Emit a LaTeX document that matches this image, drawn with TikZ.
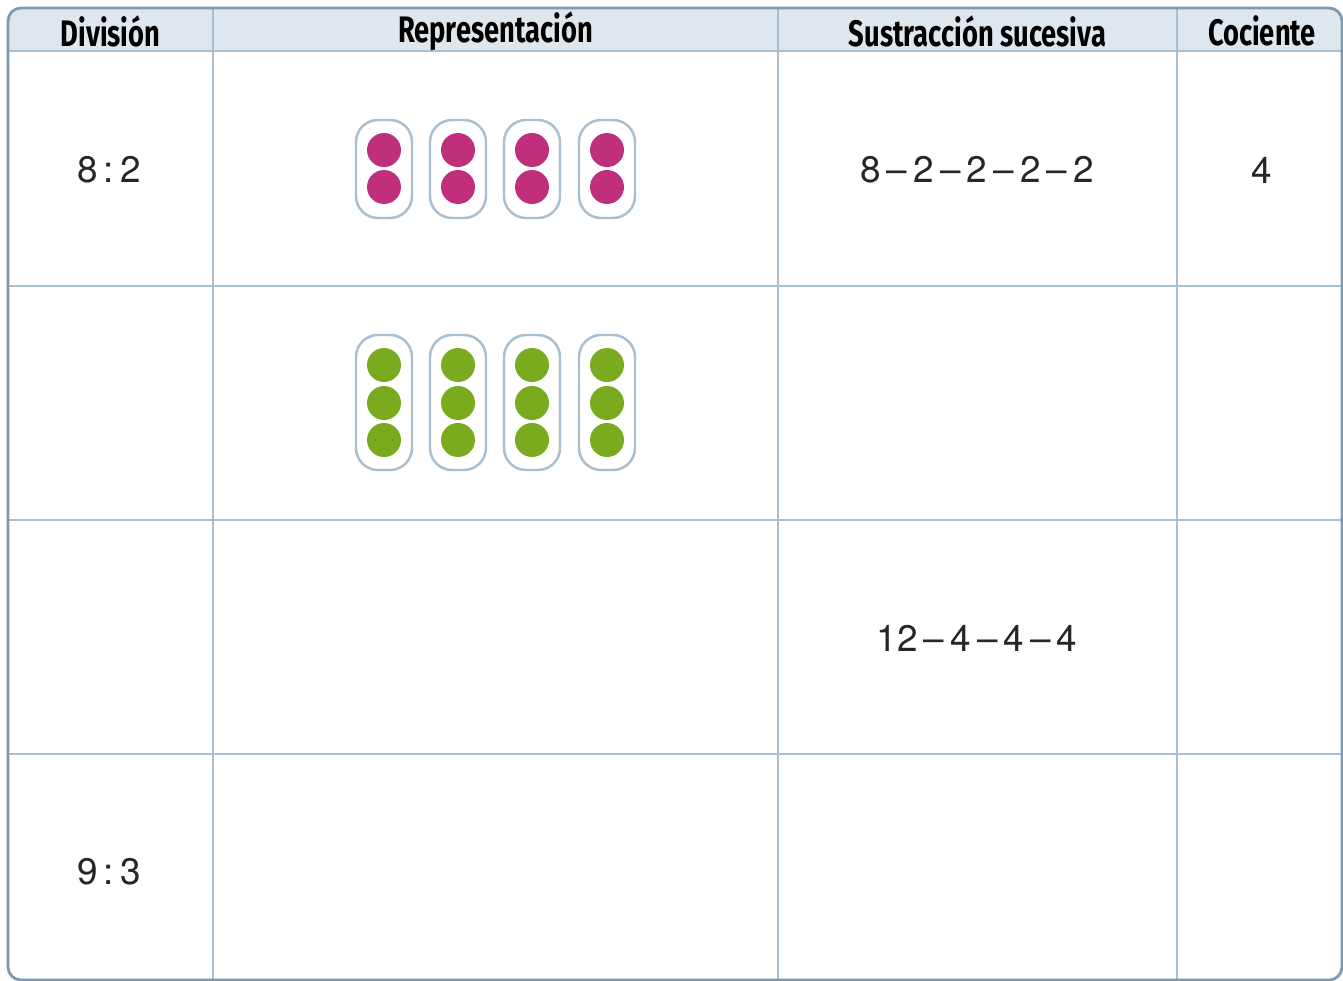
\documentclass[tikz,border=0pt]{standalone}
\usepackage{fontspec}
\setmainfont{TeX Gyre Heros}
\newfontfamily\headfont[FakeStretch=0.74]{Fira Sans}
\usetikzlibrary{positioning}
\definecolor{tbframe}{RGB}{125,154,176}
\definecolor{tbgrid}{RGB}{169,191,207}
\definecolor{tbhead}{RGB}{223,231,238}
\definecolor{dotpink}{RGB}{191,47,123}
\definecolor{dotgreen}{RGB}{122,170,30}
\tikzstyle{head} = [font=\headfont\bfseries\fontsize{21}{24}\selectfont, text=black]
\tikzstyle{cell} = [font=\fontsize{21}{25}\selectfont, text=black!85]
\tikzstyle{pill} = [draw=tbgrid, line width=1.4pt, rounded corners=0.44cm, fill=white]

\begin{document}
\begin{tikzpicture}[x=0.02cm, y=-0.02cm]
\useasboundingbox (0,0) rectangle (1343,981);

% Header band
\begin{scope}
\clip[rounded corners=0.26cm] (8,8) rectangle (1342,980);
\fill[tbhead] (8,8) rectangle (1342,51);
\end{scope}

% Grid
\draw[tbgrid, line width=1.2pt] (8,51) -- (1342,51);
\draw[tbgrid, line width=1.2pt] (8,286) -- (1342,286);
\draw[tbgrid, line width=1.2pt] (8,520) -- (1342,520);
\draw[tbgrid, line width=1.2pt] (8,754) -- (1342,754);
\draw[tbgrid, line width=1.2pt] (213,8) -- (213,980);
\draw[tbgrid, line width=1.2pt] (778,8) -- (778,980);
\draw[tbgrid, line width=1.2pt] (1177,8) -- (1177,980);
\draw[tbframe, line width=1.6pt, rounded corners=0.26cm] (8,8) rectangle (1342,980);

% Headings
\node[head] (hdiv) at (110.5,31) {División};
\node[head] (hrep) at (495.5,31) {Representación};
\node[head] (hsus) at (977.5,31) {Sustracción sucesiva};
\node[head] (hcoc) at (1262,31) {Cociente};

% Row texts
\node[cell] (div1) at (109,170) {8\,:\,2};
\node[cell] (sus1) at (977,170) {8\,--\,2\,--\,2\,--\,2\,--\,2};
\node[cell] (coc1) at (1262,170) {4};
\node[cell] (sus3) at (977,638) {12\,--\,4\,--\,4\,--\,4};
\node[cell] (div4) at (109,872) {9\,:\,3};

% Groups of dots
\foreach \x in {384,458,532,607} {
  \draw[pill] (\x-28,120) rectangle (\x+28,218);
  \fill[dotpink] (\x,150) circle (0.34cm);
  \fill[dotpink] (\x,187) circle (0.34cm);
  \draw[pill] (\x-28,335) rectangle (\x+28,470);
  \foreach \y in {365,403,440}
    \fill[dotgreen] (\x,\y) circle (0.34cm);
}
\end{tikzpicture}
\end{document}
